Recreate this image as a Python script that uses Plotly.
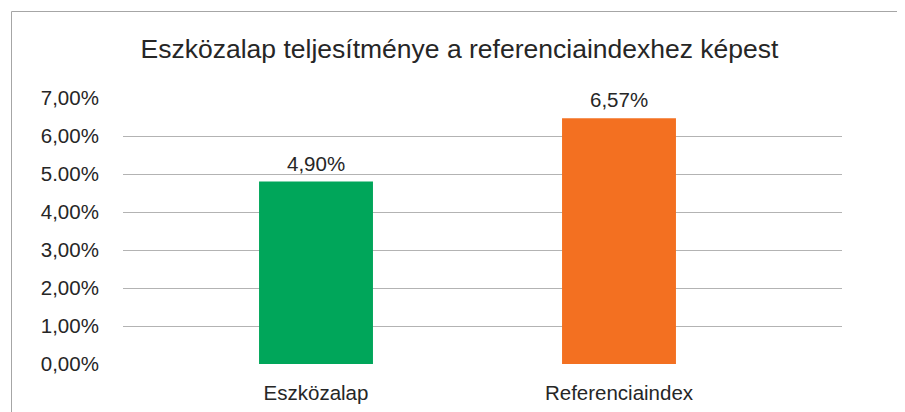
import plotly.graph_objects as go

categories = ["Eszközalap", "Referenciaindex"]
bar_values = [4.80, 6.47]
value_labels = ["4,90%", "6,57%"]
bar_colors = ["#00A65A", "#F37021"]
tick_values = [0, 1, 2, 3, 4, 5, 6, 7]
tick_labels = ["0,00%", "1,00%", "2,00%", "3,00%", "4,00%", "5.00%", "6,00%", "7,00%"]
title_text = "Eszközalap teljesítménye a referenciaindexhez képest"

FONT = "Liberation Sans, Arial, sans-serif"
TXT = "#262626"
OFF = 8  # page body margin
W, H = 905 - OFF, 412 - OFF

fig = go.Figure()
fig.add_trace(go.Bar(
    x=categories, y=bar_values, marker=dict(color=bar_colors, line=dict(width=0)),
    width=0.376, hoverinfo="skip",
))

for c, v, lab in zip(categories, bar_values, value_labels):
    fig.add_annotation(x=c, y=v, text=lab, showarrow=False, yanchor="bottom",
                       yshift=5, font=dict(family=FONT, size=20.5, color=TXT))

fig.update_layout(
    width=W, height=H,
    margin=dict(l=123 - OFF, r=63, t=98 - OFF, b=48, pad=0, autoexpand=False),
    paper_bgcolor="white", plot_bgcolor="white",
    showlegend=False,
    title=dict(text=title_text, x=(459.5 - OFF) / W, xanchor="center", y=1 - (49 - OFF) / H,
               yanchor="middle", font=dict(family=FONT, size=26.5, color=TXT)),
    font=dict(family=FONT, color=TXT),
    xaxis=dict(type="category", range=[-0.637, 1.736], showgrid=False, zeroline=False,
               showline=False, ticks="", ticklabelstandoff=14, automargin=False,
               tickfont=dict(family=FONT, size=20.5, color=TXT)),
    yaxis=dict(range=[0, 7], tickvals=tick_values, ticktext=tick_labels, showgrid=True,
               gridcolor="#b3b3b3", gridwidth=1, zeroline=False, showline=False,
               ticks="outside", ticklen=19, tickcolor="rgba(0,0,0,0)", automargin=False,
               tickfont=dict(family=FONT, size=20.5, color=TXT)),
    shapes=[dict(type="rect", xref="paper", yref="paper",
                 x0=(11.5 - 123) / 719, x1=1.3, y0=-0.5, y1=1 + (98 - 11.5) / 266,
                 line=dict(color="#a6a6a6", width=1), fillcolor="rgba(0,0,0,0)", layer="below")],
)

fig.write_html("out.html")
